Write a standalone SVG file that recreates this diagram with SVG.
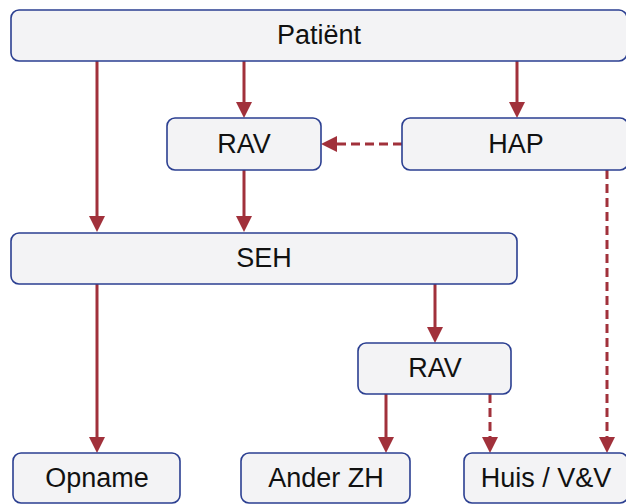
<svg xmlns="http://www.w3.org/2000/svg" width="626" height="504" viewBox="0 0 626 504">
<style>
.box{fill:#f3f3f5;stroke:#2b3f91;stroke-width:1.6}
.lbl{font-family:"Liberation Sans",Arial,sans-serif;font-size:27px;fill:#111;text-anchor:middle}
.c{stroke:#a1313b;stroke-width:3;fill:none}
.d{stroke-dasharray:9 5}
</style>
<defs>
<marker id="ah" markerUnits="userSpaceOnUse" markerWidth="17" markerHeight="17" refX="12" refY="8" orient="auto">
<path d="M0,0 L16,8 L0,16 z" fill="#a1313b"/>
</marker>
</defs>
<rect width="626" height="504" fill="#fff"/>
<g id="connectors">
<line class="c" x1="97" y1="61" x2="97" y2="228" marker-end="url(#ah)"/>
<line class="c" x1="244" y1="61" x2="244" y2="114" marker-end="url(#ah)"/>
<line class="c" x1="517" y1="61" x2="517" y2="114" marker-end="url(#ah)"/>
<line class="c d" x1="402" y1="144" x2="325" y2="144" marker-end="url(#ah)"/>
<line class="c" x1="244" y1="170" x2="244" y2="228" marker-end="url(#ah)"/>
<line class="c" x1="97" y1="284" x2="97" y2="449" marker-end="url(#ah)"/>
<line class="c" x1="435" y1="284" x2="435" y2="339" marker-end="url(#ah)"/>
<line class="c" x1="386" y1="394" x2="386" y2="449" marker-end="url(#ah)"/>
<line class="c d" x1="490" y1="394" x2="490" y2="449" marker-end="url(#ah)"/>
<line class="c d" x1="607" y1="170" x2="607" y2="449" marker-end="url(#ah)"/>
</g>
<g id="patient"><rect class="box" x="11" y="10" width="616" height="51" rx="8"/><text class="lbl" x="319" y="44">Patiënt</text></g>
<g id="rav1"><rect class="box" x="167" y="118" width="154" height="52" rx="8"/><text class="lbl" x="244" y="153">RAV</text></g>
<g id="hap"><rect class="box" x="402" y="118" width="226" height="52" rx="8"/><text class="lbl" x="516" y="153">HAP</text></g>
<g id="seh"><rect class="box" x="11" y="233" width="506" height="51" rx="8"/><text class="lbl" x="264" y="267">SEH</text></g>
<g id="rav2"><rect class="box" x="358" y="343" width="153" height="51" rx="8"/><text class="lbl" x="435" y="377">RAV</text></g>
<g id="opname"><rect class="box" x="13" y="453" width="167" height="50" rx="8"/><text class="lbl" x="97" y="487">Opname</text></g>
<g id="anderzh"><rect class="box" x="241" y="453" width="169" height="50" rx="8"/><text class="lbl" x="326" y="487">Ander ZH</text></g>
<g id="huis"><rect class="box" x="464" y="453" width="164" height="50" rx="8"/><text class="lbl" x="546" y="487">Huis / V&amp;V</text></g>
</svg>
